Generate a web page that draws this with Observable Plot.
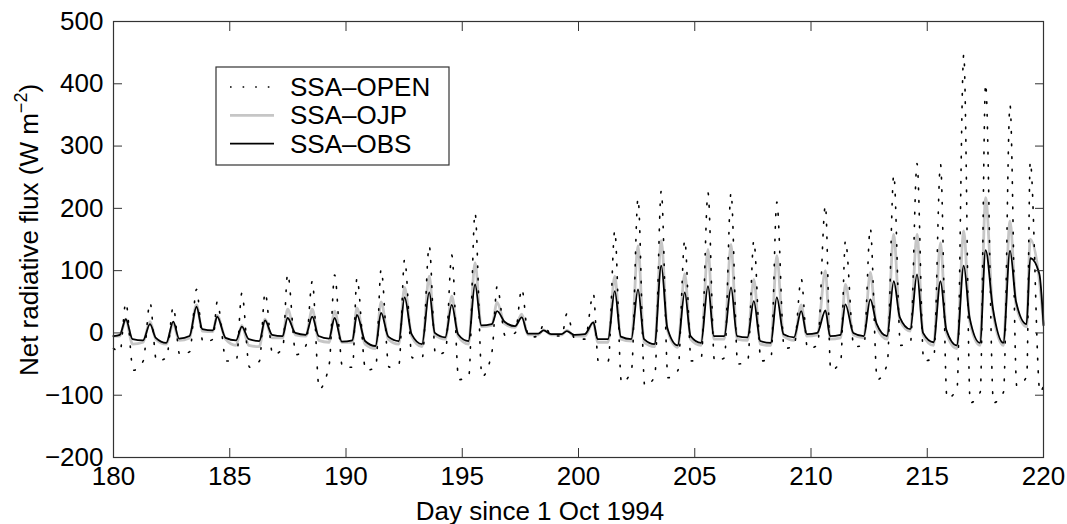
<!DOCTYPE html>
<html><head><meta charset="utf-8">
<script src="https://cdn.jsdelivr.net/npm/d3@7"></script>
<script src="https://cdn.jsdelivr.net/npm/@observablehq/plot@0.6"></script>
<style>body{margin:0;background:#fff;} svg{display:block}</style>
</head><body><div id="chart"></div>
<script>
// ---- data ----
const days = [180,181,182,183,184,185,186,187,188,189,190,191,192,193,194,195,196,197,198,199,
              200,201,202,203,204,205,206,207,208,209,210,211,212,213,214,215,216,217,218,219];
// time of the daily maximum
const peakTime = [180.53,181.57,182.57,183.57,184.46,185.52,186.52,187.49,188.55,189.51,
                  190.47,191.51,192.52,193.58,194.55,195.55,196.5,197.56,198.5,199.5,
                  200.64,201.56,202.56,203.56,204.57,205.57,206.56,207.54,208.53,209.58,
                  210.62,211.48,212.55,213.56,214.56,215.57,216.57,217.51,218.56,219.43];
// SSA-OBS: pre-dawn, daily peak, evening values (W m-2)
const obsDawn = [-3,-12,-16,-5,4,-12,-13,-5,-3,-9,-12,-21,-13,-18,-7,-13,14,11,-1,-2,
                 -2,-10,-10,-18,-20,-16,-5,-7,-16,-7,0,-3,-5,-5,6,-15,-20,-16,-16,14];
const obsPeak = [22,14,18,42,26,10,20,24,26,24,29,32,57,65,45,78,35,25,4,3,
                 17,67,70,108,65,75,73,51,57,35,36,46,54,83,94,83,108,133,132,120];
const obsDusk = [-10,-8,-9,6,-8,-10,-3,0,-5,-14,-13,-6,-2,0,-2,12,18,-1,-2,-3,
                 -10,-6,-10,8,-5,-5,-5,-13,-2,-2,-5,0,15,25,0,5,25,40,50,95];
const obsEnds = [-5, 12];
// SSA-OJP
const ojpDawn = [-5,-15,-18,-8,2,-20,-22,-8,-5,-15,-15,-25,-18,-22,-10,-18,12,9,-3,-3,
                 -5,-15,-13,-22,-23,-20,-10,-12,-20,-12,-3,-8,-8,-10,3,-20,-25,-20,-20,10];
const ojpPeak = [22,18,15,45,28,12,22,38,38,35,40,50,73,91,59,113,49,30,5,4,
                 17,91,140,148,95,134,142,86,124,45,100,78,97,158,158,145,164,217,180,150];
const ojpDusk = [-18,-10,-12,3,-10,-20,-8,-3,-12,-15,-18,-10,-5,-3,-5,10,15,-3,-3,-5,
                 -15,-10,-15,5,-10,-10,-10,-18,-5,-5,-10,-3,10,20,-3,0,20,35,45,85];
const ojpEnds = [-5, 15];
// SSA-OPEN
const openDawn = [-30,-45,-40,-30,-10,-45,-45,-25,-20,-50,-55,-55,-50,-40,-30,-70,-30,0,-5,-5,
                  -10,-45,-60,-70,-60,-40,-40,-45,-40,-20,-20,-45,-20,-50,-15,-40,-90,-95,-95,-70];
const openPeak = [49,49,42,70,50,64,65,95,83,93,88,102,118,140,125,193,75,71,14,31,
                  63,164,216,228,149,225,225,148,210,87,205,148,168,254,272,271,447,400,366,275];
const openNight = [-60,-45,-35,-15,-45,-55,-35,-35,-90,-55,-60,-55,-40,-35,-75,-70,-5,-7,-5,-10,
                   -45,-80,-85,-72,-45,-45,-50,-45,-25,-25,-60,-22,-75,-20,-45,-105,-112,-112,-85,-95];
const openEnds = [-25, -85];

const xTicks = [180,185,190,195,200,205,210,215,220];
const yTicks = [-200,-100,0,100,200,300,400,500];
const seriesNames = ["SSA–OPEN","SSA–OJP","SSA–OBS"];

// ---- build tables ----
function series(dawn, peak, dusk, ends, tDawn, tDusk) {
  const rows = [{t: 180, v: ends[0]}];
  days.forEach((d, i) => {
    rows.push({t: d + tDawn, v: dawn[i]});
    rows.push({t: peakTime[i], v: peak[i]});
    rows.push({t: d + tDusk, v: dusk[i]});
  });
  rows.push({t: 220, v: ends[1]});
  return rows;
}
const obs = series(obsDawn, obsPeak, obsDusk, obsEnds, 0.27, 0.82);
const ojp = series(ojpDawn, ojpPeak, ojpDusk, ojpEnds, 0.27, 0.82);
const open = series(openDawn, openPeak, openNight, openEnds, 0.28, 0.85);

const FONT = "'Liberation Sans', Arial, Helvetica, sans-serif";
const fmt = d => d < 0 ? "\u2212" + Math.abs(d) : String(d);
const DOTS = "1.6,11";

const chart = Plot.plot({
  width: 1067, height: 524,
  marginLeft: 113, marginRight: 24, marginTop: 21, marginBottom: 67,
  style: {fontFamily: FONT, fontSize: "26px", color: "#000", background: "#fff", overflow: "visible"},
  x: {domain: [180, 220]},
  y: {domain: [-200, 500]},
  marks: [
    Plot.line(ojp, {x: "t", y: "v", stroke: "#c6c6c6", strokeWidth: 2.8, curve: "monotone-x"}),
    Plot.line(open, {x: "t", y: "v", stroke: "#000", strokeWidth: 1.6, strokeDasharray: DOTS, curve: "monotone-x"}),
    Plot.line(obs, {x: "t", y: "v", stroke: "#000", strokeWidth: 1.8, curve: "monotone-x"}),
    Plot.frame({stroke: "#333", strokeWidth: 1.2}),
    // labels
    Plot.axisX({anchor: "bottom", ticks: xTicks, tickSize: 0, tickPadding: 9, tickFormat: fmt, fontSize: 26, label: null}),
    Plot.axisY({anchor: "left", ticks: yTicks, tickSize: 0, tickPadding: 10, tickFormat: fmt, fontSize: 26, label: null}),
    // inward ticks on four sides
    Plot.axisX({anchor: "bottom", ticks: xTicks, tickSize: 9, dy: -9, fill: "none", label: null, stroke: "#333"}),
    Plot.axisX({anchor: "top", ticks: xTicks, tickSize: 9, dy: 9, fill: "none", label: null, stroke: "#333"}),
    Plot.axisY({anchor: "left", ticks: yTicks, tickSize: 9, dx: 9, fill: "none", label: null, stroke: "#333"}),
    Plot.axisY({anchor: "right", ticks: yTicks, tickSize: 9, dx: -9, fill: "none", label: null, stroke: "#333"})
  ]
});
document.getElementById("chart").appendChild(chart);

// ---- axis titles and legend ----
const svg = d3.select(chart);
svg.append("text").attr("x", 540).attr("y", 520).attr("text-anchor", "middle")
  .attr("font-size", 26).attr("fill", "#000").text("Day since 1 Oct 1994");
const yl = svg.append("text").attr("transform", "translate(38,230) rotate(-90)")
  .attr("text-anchor", "middle").attr("font-size", 26).attr("fill", "#000");
yl.append("tspan").text("Net radiative flux (W m");
yl.append("tspan").attr("font-size", 18).attr("dy", -11).text("\u22122");
yl.append("tspan").attr("dy", 11).text(")");

const lg = svg.append("g");
lg.append("rect").attr("x", 216).attr("y", 67).attr("width", 233).attr("height", 98)
  .attr("fill", "#fff").attr("stroke", "#333").attr("stroke-width", 1.2);
const legendStyles = [
  {stroke: "#000", w: 1.6, dash: DOTS},
  {stroke: "#c6c6c6", w: 2.8, dash: null},
  {stroke: "#000", w: 1.8, dash: null}
];
seriesNames.forEach((name, i) => {
  const y = 87 + i * 28.3;
  const ln = lg.append("line").attr("x1", 230).attr("x2", 274).attr("y1", y).attr("y2", y)
    .attr("stroke", legendStyles[i].stroke).attr("stroke-width", legendStyles[i].w);
  if (legendStyles[i].dash) ln.attr("stroke-dasharray", legendStyles[i].dash);
  lg.append("text").attr("x", 290).attr("y", y + 9).attr("text-anchor", "start")
    .attr("font-size", 26).attr("fill", "#000").text(name);
});
</script>
</body></html>
